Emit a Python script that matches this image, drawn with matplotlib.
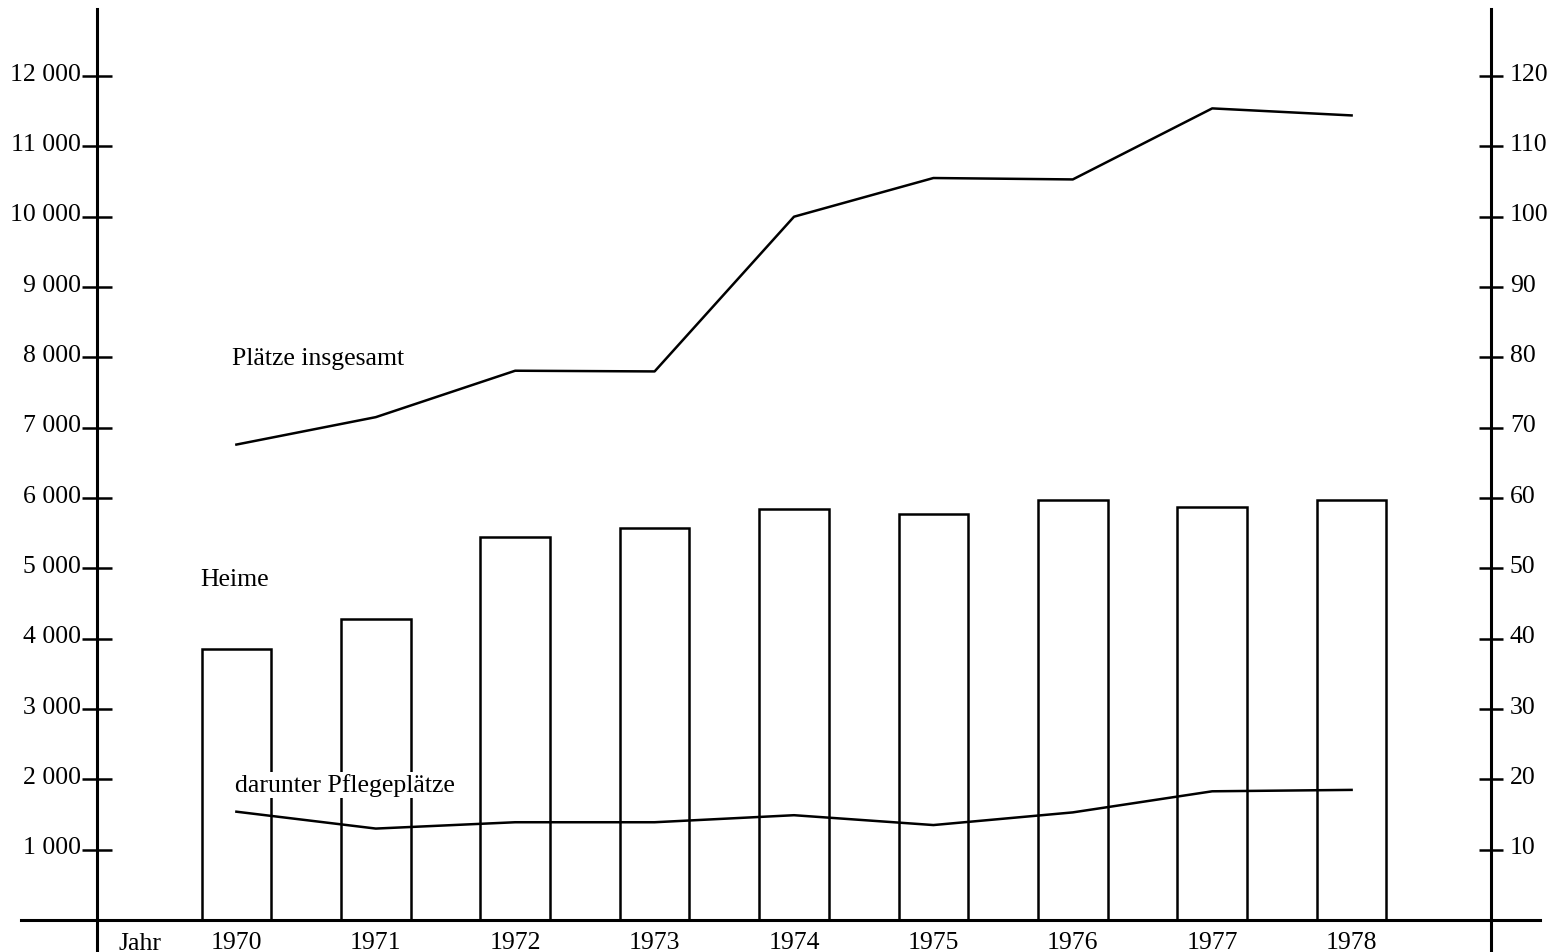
import matplotlib
matplotlib.use('Agg')
import matplotlib.pyplot as plt
from matplotlib.transforms import ScaledTranslation

jahre = [1970, 1971, 1972, 1973, 1974, 1975, 1976, 1977, 1978]
heime = [38.6, 42.8, 54.5, 55.7, 58.5, 57.7, 59.7, 58.7, 59.7]
plaetze_insgesamt = [6760, 7150, 7810, 7800, 10000, 10550, 10530, 11540, 11440]
pflegeplaetze = [1540, 1300, 1390, 1390, 1490, 1350, 1530, 1830, 1850]

links_ticks = [1000, 2000, 3000, 4000, 5000, 6000, 7000, 8000, 9000, 10000, 11000, 12000]
links_labels = ['1 000', '2 000', '3 000', '4 000', '5 000', '6 000', '7 000',
                '8 000', '9 000', '10 000', '11 000', '12 000']
rechts_ticks = [10, 20, 30, 40, 50, 60, 70, 80, 90, 100, 110, 120]

plt.rcParams['font.family'] = ['Liberation Serif', 'DejaVu Serif']
plt.rcParams['font.size'] = 18.5

W, H = 1553, 953
fig = plt.figure(figsize=(W / 100, H / 100), dpi=100)
ax = fig.add_axes([97 / W, (H - 921) / H, (1491 - 97) / W, (921 - 10) / H])
ax2 = ax.twinx()

ytop = (921 - 10) / 70.33 * 1000
ax.set_xlim(1969, 1979)
ax.set_ylim(0, ytop)
ax2.set_ylim(0, ytop / 100)

# Heime als leere Balken (rechte Achse)
ax2.bar(jahre, heime, width=0.5, facecolor='none', edgecolor='black', linewidth=1.8)

# Linien vor den Balken zeichnen
ax.set_zorder(ax2.get_zorder() + 1)
ax.patch.set_visible(False)
ax.plot(jahre, plaetze_insgesamt, color='black', linewidth=1.8)
ax.plot(jahre, pflegeplaetze, color='black', linewidth=1.8)

ax.text(1969.97, 7990, 'Plätze insgesamt', va='center', ha='left')
ax.text(1969.74, 4850, 'Heime', va='center', ha='left')
ax.text(1969.99, 1920, 'darunter Pflegeplätze', va='center', ha='left',
        bbox=dict(facecolor='white', edgecolor='none', pad=1))

for a in (ax, ax2):
    for s in a.spines.values():
        s.set_visible(False)

# Achsenlinien
unten = -(955 - 921) / 911
ax.axvline(1969, ymin=unten, ymax=1, color='black', linewidth=2.2, clip_on=False)
ax.axvline(1979, ymin=unten, ymax=1, color='black', linewidth=2.2, clip_on=False)
ax.axhline(0, xmin=(21 - 97) / 1394, xmax=(1540 - 97) / 1394, color='black',
           linewidth=2.2, clip_on=False)

ax.set_yticks(links_ticks)
ax.set_yticklabels(links_labels)
ax.tick_params(axis='y', direction='inout', length=21, width=1.8, pad=1)
ax2.set_yticks(rechts_ticks)
ax2.set_yticklabels([str(t) for t in rechts_ticks])
ax2.tick_params(axis='y', direction='inout', length=17, width=1.8, pad=5)
ax2.set_xticks([])

# Beschriftungen etwas über den Strichen
hoch = ScaledTranslation(0, 0.05, fig.dpi_scale_trans)
for lab in ax.get_yticklabels() + ax2.get_yticklabels():
    lab.set_transform(lab.get_transform() + hoch)

ax.set_xticks(jahre)
ax.set_xticklabels([str(j) for j in jahre])
ax.tick_params(axis='x', length=0, pad=8)
ax.text(1969.31, -320, 'Jahr', ha='center', va='center', clip_on=False)

fig.savefig('out.png', dpi=100, facecolor='white')
